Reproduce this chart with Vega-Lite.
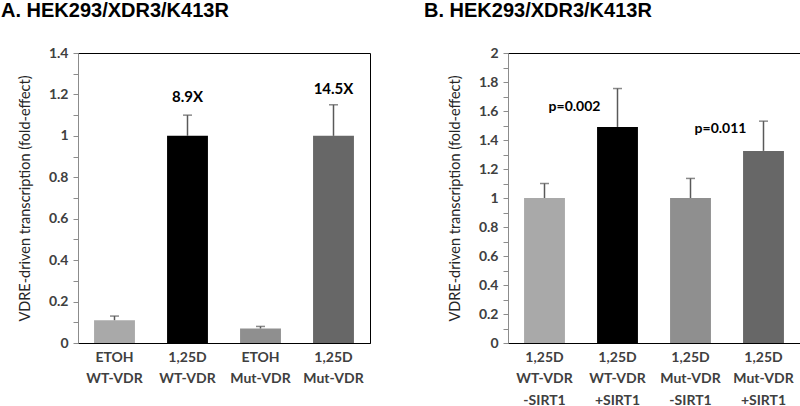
{
  "$schema": "https://vega.github.io/schema/vega-lite/v6.json",
  "autosize": {"type": "pad"},
  "padding": 0,
  "spacing": 138,
  "bounds": "flush",
  "background": "white",
  "config": {
    "view": {"stroke": "#000", "strokeWidth": 1},
    "font": "Lato",
    "title": {"font": "Liberation Sans", "fontSize": 20, "fontWeight": "bold", "color": "#000", "anchor": "start", "frame": "group", "baseline": "alphabetic"},
    "axisY": {"grid": false, "domainColor": "#8c8c8c", "tickColor": "#8c8c8c", "tickSize": 5, "labelFont": "Lato", "labelFontWeight": "bold", "labelFontSize": 14, "labelColor": "#404040", "labelPadding": 5, "labelOverlap": false, "titleFont": "Lato", "titleFontSize": 14.5, "titleFontWeight": "normal", "titleColor": "#262626", "titlePadding": 16},
    "axisX": {"ticks": false, "domainColor": "#000", "labelFont": "Lato", "labelFontWeight": "bold", "labelFontSize": 14, "labelColor": "#404040", "labelPadding": 7, "labelLineHeight": 21.5, "labelAngle": 0, "labelOverlap": false, "title": null}
  },
  "datasets": {
    "A": [
      {"label": "ETOH|WT-VDR", "value": 0.11, "err": 0.13},
      {"label": "1,25D|WT-VDR", "value": 1.0, "err": 1.10},
      {"label": "ETOH|Mut-VDR", "value": 0.07, "err": 0.08},
      {"label": "1,25D|Mut-VDR", "value": 1.0, "err": 1.15}
    ],
    "Anotes": [
      {"label": "1,25D|WT-VDR", "y": 1.19, "text": "8.9X"},
      {"label": "1,25D|Mut-VDR", "y": 1.225, "text": "14.5X"}
    ],
    "B": [
      {"label": "1,25D|WT-VDR|-SIRT1", "value": 1.0, "err": 1.10},
      {"label": "1,25D|WT-VDR|+SIRT1", "value": 1.49, "err": 1.755},
      {"label": "1,25D|Mut-VDR|-SIRT1", "value": 1.0, "err": 1.135},
      {"label": "1,25D|Mut-VDR|+SIRT1", "value": 1.325, "err": 1.53}
    ],
    "Bnotes": [
      {"label": "1,25D|WT-VDR|+SIRT1", "y": 1.63, "text": "p=0.002"},
      {"label": "1,25D|Mut-VDR|+SIRT1", "y": 1.475, "text": "p=0.011"}
    ]
  },
  "hconcat": [
    {
      "width": 292, "height": 290,
      "title": {"text": "A. HEK293/XDR3/K413R", "dx": -77, "offset": 25},
      "layer": [
        {
          "data": {"name": "A"},
          "mark": {"type": "bar"},
          "encoding": {
            "x": {"field": "label", "type": "nominal", "sort": null, "scale": {"paddingInner": 0.44, "paddingOuter": 0.22}, "axis": {"labelExpr": "split(datum.value, '|')"}},
            "y": {"field": "value", "type": "quantitative", "scale": {"domain": [0, 1.4], "nice": false}, "axis": {"title": "VDRE-driven transcription (fold-effect)", "labelOverlap": false, "tickCount": 100, "values": [0,0.1,0.2,0.3,0.4,0.5,0.6,0.7,0.8,0.9,1,1.1,1.2,1.3,1.4], "format": "~g", "labelExpr": "round(datum.value*10) % 2 == 0 ? datum.label : ''"}},
            "color": {"field": "label", "type": "nominal", "sort": null, "scale": {"range": ["#a9a9a9", "#000000", "#8f8f8f", "#676767"]}, "legend": null}
          }
        },
        {
          "data": {"name": "A"},
          "mark": {"type": "rule", "color": "#595959", "strokeWidth": 1.5},
          "encoding": {
            "x": {"field": "label", "type": "nominal", "sort": null},
            "y": {"field": "value", "type": "quantitative"},
            "y2": {"field": "err"}
          }
        },
        {
          "data": {"name": "A"},
          "mark": {"type": "tick", "color": "#595959", "size": 9, "thickness": 1.5},
          "encoding": {
            "x": {"field": "label", "type": "nominal", "sort": null},
            "y": {"field": "err", "type": "quantitative"}
          }
        },
        {
          "data": {"name": "Anotes"},
          "mark": {"type": "text", "font": "Lato", "fontWeight": "bold", "fontSize": 15, "color": "#000", "baseline": "middle"},
          "encoding": {
            "x": {"field": "label", "type": "nominal", "sort": null},
            "y": {"field": "y", "type": "quantitative"},
            "text": {"field": "text"}
          }
        }
      ]
    },
    {
      "width": 292, "height": 290,
      "title": {"text": "B. HEK293/XDR3/K413R", "dx": -84, "offset": 25},
      "layer": [
        {
          "data": {"name": "B"},
          "mark": {"type": "bar"},
          "encoding": {
            "x": {"field": "label", "type": "nominal", "sort": null, "scale": {"paddingInner": 0.44, "paddingOuter": 0.22}, "axis": {"labelExpr": "split(datum.value, '|')"}},
            "y": {"field": "value", "type": "quantitative", "scale": {"domain": [0, 2], "nice": false}, "axis": {"title": "VDRE-driven transcription (fold-effect)", "labelOverlap": false, "tickCount": 100, "values": [0,0.1,0.2,0.3,0.4,0.5,0.6,0.7,0.8,0.9,1,1.1,1.2,1.3,1.4,1.5,1.6,1.7,1.8,1.9,2], "format": "~g", "labelExpr": "round(datum.value*10) % 2 == 0 ? datum.label : ''"}},
            "color": {"field": "label", "type": "nominal", "sort": null, "scale": {"range": ["#a9a9a9", "#000000", "#8f8f8f", "#676767"]}, "legend": null}
          }
        },
        {
          "data": {"name": "B"},
          "mark": {"type": "rule", "color": "#595959", "strokeWidth": 1.5},
          "encoding": {
            "x": {"field": "label", "type": "nominal", "sort": null},
            "y": {"field": "value", "type": "quantitative"},
            "y2": {"field": "err"}
          }
        },
        {
          "data": {"name": "B"},
          "mark": {"type": "tick", "color": "#595959", "size": 9, "thickness": 1.5},
          "encoding": {
            "x": {"field": "label", "type": "nominal", "sort": null},
            "y": {"field": "err", "type": "quantitative"}
          }
        },
        {
          "data": {"name": "Bnotes"},
          "mark": {"type": "text", "font": "Lato", "fontWeight": "bold", "fontSize": 14, "color": "#000", "baseline": "middle", "dx": -43},
          "encoding": {
            "x": {"field": "label", "type": "nominal", "sort": null},
            "y": {"field": "y", "type": "quantitative"},
            "text": {"field": "text"}
          }
        }
      ]
    }
  ]
}
